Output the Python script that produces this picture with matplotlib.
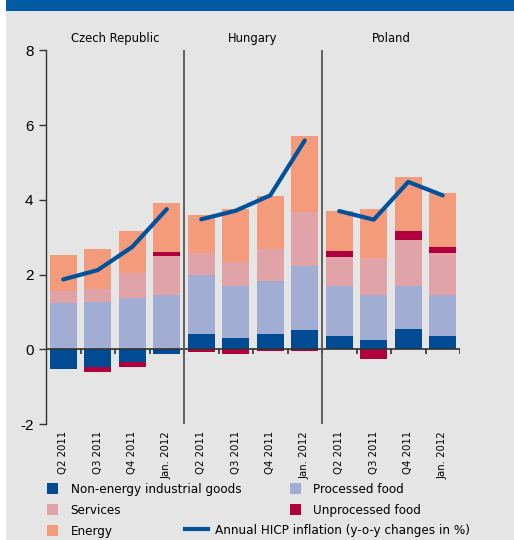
import matplotlib.pyplot as plt
from matplotlib import font_manager as fm
from matplotlib.patches import Rectangle, Patch
from matplotlib.lines import Line2D
import numpy as np

countries = ['Czech Republic', 'Hungary', 'Poland']
periods = ['Q2 2011', 'Q3 2011', 'Q4 2011', 'Jan. 2012']

# contributions, 4 periods per country (CZ, HU, PL)
neig = [-0.53, -0.48, -0.35, -0.13,
        0.40, 0.29, 0.40, 0.51,
        0.35, 0.24, 0.53, 0.35]
processed_food = [1.24, 1.26, 1.37, 1.46,
                  1.60, 1.40, 1.43, 1.72,
                  1.34, 1.22, 1.16, 1.11]
services = [0.32, 0.36, 0.68, 1.04,
            0.58, 0.64, 0.86, 1.44,
            0.77, 0.97, 1.24, 1.12]
unprocessed_food = [0.0, -0.13, -0.12, 0.11,
                    -0.07, -0.13, -0.05, -0.05,
                    0.16, -0.26, 0.24, 0.16]
energy = [0.97, 1.07, 1.12, 1.31,
          1.02, 1.43, 1.42, 2.03,
          1.08, 1.33, 1.43, 1.43]
hicp = [1.87, 2.12, 2.74, 3.75,
        3.48, 3.71, 4.12, 5.59,
        3.70, 3.47, 4.48, 4.12]

series = [
    ('Non-energy industrial goods', neig, '#004b93'),
    ('Processed food', processed_food, '#a1add3'),
    ('Services', services, '#e0a3a8'),
    ('Unprocessed food', unprocessed_food, '#b0003e'),
    ('Energy', energy, '#f39b7a'),
]
line_color = '#00529c'

plt.rcParams['axes.unicode_minus'] = False

# pick a narrow font if one is around, otherwise plain Liberation Sans a bit smaller
fonts = fm.fontManager.ttflist
if any(f.name == 'Liberation Sans Narrow' for f in fonts):
    narrow = dict(family='Liberation Sans Narrow')
    scale = 1.0
elif any(f.name == 'DejaVu Sans' and f.stretch == 'condensed' for f in fonts):
    narrow = dict(family='DejaVu Sans', stretch='condensed')
    scale = 0.88
else:
    narrow = dict(family='Liberation Sans')
    scale = 0.85

fig = plt.figure(figsize=(5.14, 5.40), dpi=100)
fig.patch.set_facecolor('white')
fig.patches.append(Rectangle((6/514, 0), 1, (540-11)/540, transform=fig.transFigure,
                             facecolor='#e5e5e5', edgecolor='none', zorder=-10))
fig.patches.append(Rectangle((6/514, (540-11)/540), 1, 11/540, transform=fig.transFigure,
                             facecolor='#005ba4', edgecolor='none', zorder=-10))

ax = fig.add_axes([46/514, 116/540, 414/514, 373.6/540])
ax.set_facecolor('none')

n = len(neig)
x = np.arange(n)
pos_base = np.zeros(n)
neg_base = np.zeros(n)
for name, vals, col in series:
    v = np.array(vals)
    p = np.where(v > 0, v, 0)
    m = np.where(v < 0, v, 0)
    ax.bar(x, p, bottom=pos_base, width=0.79, color=col, zorder=2)
    ax.bar(x, m, bottom=neg_base, width=0.79, color=col, zorder=2)
    pos_base += p
    neg_base += m

for i in range(len(countries)):
    sl = slice(4*i, 4*i+4)
    ax.plot(x[sl], hicp[sl], color=line_color, lw=3, solid_capstyle='round', zorder=4)
    ax.text(4*i + 1.5, 8.32, countries[i], ha='center', va='center',
            fontsize=10.5*scale, **narrow)

ax.axhline(0, color='#333333', lw=1.2, zorder=3)
bounds = np.arange(0.5, n, 1)
ax.vlines(bounds, -0.13, 0, color='#333333', lw=1.2, zorder=3)
for b in [3.5, 7.5]:
    ax.axvline(b, color='#555555', lw=1.3, zorder=3)

ax.set_xlim(-0.5, n - 0.5)
ax.set_ylim(-2, 8)
ax.set_yticks([-2, 0, 2, 4, 6, 8])
ax.set_yticklabels(['-2', '0', '2', '4', '6', '8'], family='Liberation Sans', fontsize=11)
ax.tick_params(axis='y', direction='out', length=5, width=1, color='#333333', pad=4)
ax.set_xticks(x)
ax.set_xticklabels(periods * 3, rotation=90, fontsize=8.5*0.95, **narrow)
ax.tick_params(axis='x', length=0, pad=5)
for s in ['top', 'right', 'bottom']:
    ax.spines[s].set_visible(False)
ax.spines['left'].set_color('#333333')
ax.spines['left'].set_linewidth(1)

handles = [Patch(facecolor=c, edgecolor='none', label=nm) for nm, _, c in series]
prop = dict(size=11*scale, **narrow)
# column 1 = NEIG, Services, Energy; column 2 = Processed, Unprocessed
leg1 = fig.legend([handles[0], handles[2], handles[4], handles[1], handles[3]],
                  [series[0][0], series[2][0], series[4][0], series[1][0], series[3][0]],
                  loc='upper left', bbox_to_anchor=(47/514, 1 - 483/540), ncol=2,
                  frameon=False, prop=prop,
                  handlelength=0.85, handleheight=0.85, handletextpad=0.9,
                  columnspacing=3.6, labelspacing=0.6, borderpad=0, borderaxespad=0)
leg2 = fig.legend([Line2D([0], [0], color=line_color, lw=3)],
                  ['Annual HICP inflation (y-o-y changes in %)'],
                  loc='upper left', bbox_to_anchor=(185/514, 1 - 524/540),
                  frameon=False, prop=prop,
                  handlelength=1.7, handletextpad=0.5, borderpad=0, borderaxespad=0)

fig.savefig('out.png', dpi=100)
